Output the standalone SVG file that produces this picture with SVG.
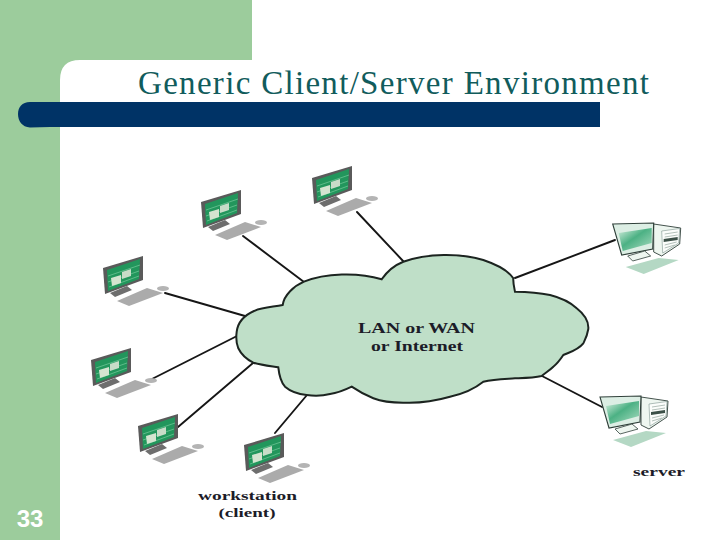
<svg xmlns="http://www.w3.org/2000/svg" xmlns:xlink="http://www.w3.org/1999/xlink" width="720" height="540" viewBox="0 0 720 540">
<style>
.label{font-family:"Liberation Serif","Times New Roman",serif;font-weight:bold;fill:#1c1c28;text-anchor:middle}
.link{stroke:#161616;stroke-width:1.9;fill:none;stroke-linecap:round}
</style>
<defs>
<linearGradient id="scr" x1="0" y1="0" x2="1" y2="1"><stop offset="0" stop-color="#d8f0e0"/><stop offset="0.45" stop-color="#4cb184"/><stop offset="1" stop-color="#a8dcc0"/></linearGradient>
<g id="workstation">
<polygon points="0,0 40,-12 40,12 2,26" fill="#5a5a5a"/>
<polygon points="4,2 37,-9 36,11 5,23" fill="#22965c"/>
<path d="M5 8L37 -3M5 14L36 3M6 19L36 8" stroke="#6cc494" stroke-width="0.800" fill="none"/>
<polygon points="8,10 18,7 18,15 9,18" fill="#d4e4d0"/>
<polygon points="19,4 28,1 28,8 19,11" fill="#c8dcc8"/>
<polygon points="7,25 24,18 29,22 12,29" fill="#6e6e6e"/>
<polygon points="14,33 44,20 60,25 26,38" fill="#ababab"/>
<ellipse cx="60" cy="20.500" rx="6" ry="2.600" fill="#b4b4b4"/>
</g>
<g id="serverbox">
<polygon points="41,0 68,4 67,20 49,32 41,28" fill="#eef6f0" stroke="#30403a" stroke-width="0.900"/>
<polygon points="49,7 67,4.500 66,19 50,29" fill="#fbfdfb" stroke="#66807a" stroke-width="0.500"/>
<path d="M52 10L65 8M52 13L65 11M52 21L64 18M52 24L62 21" stroke="#9fb0a8" stroke-width="0.800" fill="none"/>
<polygon points="51,15 65,13 65,16 51,18" fill="#3c5048"/>
<polygon points="0,0 41,-1 40,25 9,31" fill="#dceee4" stroke="#30403a" stroke-width="1.100"/>
<polygon points="6,9 39,4 39,19 10,27" fill="url(#scr)"/>
<polygon points="15,32 32,27 38,32 20,37" fill="#eef6f0" stroke="#30403a" stroke-width="0.800"/>
<polygon points="13,43 46,34 66,36 31,50" fill="#b4d8c4"/>
</g>
</defs>
<rect width="720" height="540" fill="#fff"/>
<path d="M0 0H252V60H80Q60 60 60 80V540H0Z" fill="#9ccc9c"/>
<path d="M30 102H600V127H50L30 127.500C22 127 18 121 18 114C18 107 22 102 30 102Z" fill="#003366"/>
<text x="393.500" y="94" font-family="'Liberation Serif','Times New Roman',serif" font-size="33" fill="#115c5c" text-anchor="middle" textLength="511" lengthAdjust="spacing">Generic Client/Server Environment</text>
<text x="30" y="527" font-family="'Liberation Sans',Arial,sans-serif" font-size="24" font-weight="bold" fill="#fff" text-anchor="middle">33</text>
<g id="connectors">
<line class="link" x1="243" y1="236" x2="304" y2="282"/>
<line class="link" x1="357" y1="212" x2="404" y2="262"/>
<line class="link" x1="165" y1="293" x2="245" y2="316"/>
<line class="link" x1="148" y1="381" x2="237" y2="336"/>
<line class="link" x1="178" y1="427" x2="253" y2="363"/>
<line class="link" x1="275" y1="433" x2="307" y2="395"/>
<line class="link" x1="515" y1="278" x2="615" y2="240"/>
<line class="link" x1="542" y1="376" x2="602" y2="407"/>
</g>
<g id="cloud">
<path d="M236.700 331.700C238 321 245 315 254 311C263 307 273 307 282.700 305C284 295 294 286 304 281.700C325 273 358 272 381.700 279.300C388 270 395 265 403.300 261.700C428 253 460 253 483.300 260C498 265 508 270 513.300 278.300C513 283 514 287 515 291.700C530 292 540 293 550 295C562 298 570 302 576.700 308.300C584 314 589 320 588.300 329C587 337 585 340 583.300 343.300C578 350 570 352 563.300 355C560 360 558 363 553.300 366.700C550 370 545 373 541.700 376C533 378 524 378 515 378.300C504 379 494 379 483.300 381.700C473 390 462 394 450 396.700C435 401 420 403 406.700 402.700C394 403 383 402 373.300 398.300C365 395 358 391 351.700 386.700C345 390 338 393 330 394C322 396 314 396 306.700 395C297 394 290 391 285 386.700C281 382 279 374 278.300 367.300C270 366 261 365 253.300 362.700C246 359 241 354 238.300 348.300C236 343 236 337 236.700 331.700Z" fill="#bfdfc8" stroke="#1c2420" stroke-width="2"/>
<text class="label" x="416.500" y="332.500" font-size="14" textLength="117" lengthAdjust="spacingAndGlyphs">LAN or WAN</text>
<text class="label" x="417" y="350.500" font-size="14" textLength="92" lengthAdjust="spacingAndGlyphs">or Internet</text>
</g>
<g id="client-1"><use href="#workstation" x="201" y="202"/></g>
<g id="client-2"><use href="#workstation" x="312" y="178"/></g>
<g id="client-3"><use href="#workstation" x="103" y="268"/></g>
<g id="client-4"><use href="#workstation" x="91" y="360"/></g>
<g id="client-5"><use href="#workstation" x="138" y="426"/></g>
<g id="client-6"><use href="#workstation" x="244" y="445"/>
<text class="label" x="247.500" y="499.500" font-size="13.500" textLength="99" lengthAdjust="spacingAndGlyphs">workstation</text>
<text class="label" x="247" y="517" font-size="13.500" textLength="57" lengthAdjust="spacingAndGlyphs">(client)</text></g>
<g id="server-1"><use href="#serverbox" x="612.700" y="224"/></g>
<g id="server-2"><use href="#serverbox" x="600" y="397"/>
<text class="label" x="659" y="476" font-size="12.500" textLength="52" lengthAdjust="spacingAndGlyphs">server</text></g>
</svg>
